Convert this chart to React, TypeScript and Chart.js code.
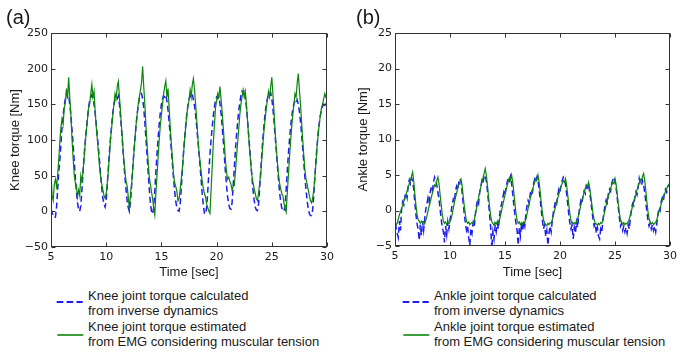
import React, { useEffect, useRef } from 'react';
import { Chart, registerables } from 'chart.js';

Chart.register(...registerables);

// Sample times [sec]
const timeSec = [
  5.0, 5.1, 5.2, 5.3, 5.4, 5.5, 5.6, 5.7, 5.8, 5.9,
  6.0, 6.1, 6.2, 6.3, 6.4, 6.5, 6.6, 6.7, 6.8, 6.9,
  7.0, 7.1, 7.2, 7.3, 7.4, 7.5, 7.6, 7.7, 7.8, 7.9,
  8.0, 8.1, 8.2, 8.3, 8.4, 8.5, 8.6, 8.7, 8.8, 8.9,
  9.0, 9.1, 9.2, 9.3, 9.4, 9.5, 9.6, 9.7, 9.8, 9.9,
  10.0, 10.1, 10.2, 10.3, 10.4, 10.5, 10.6, 10.7, 10.8, 10.9,
  11.0, 11.1, 11.2, 11.3, 11.4, 11.5, 11.6, 11.7, 11.8, 11.9,
  12.0, 12.1, 12.2, 12.3, 12.4, 12.5, 12.6, 12.7, 12.8, 12.9,
  13.0, 13.1, 13.2, 13.3, 13.4, 13.5, 13.6, 13.7, 13.8, 13.9,
  14.0, 14.1, 14.2, 14.3, 14.4, 14.5, 14.6, 14.7, 14.8, 14.9,
  15.0, 15.1, 15.2, 15.3, 15.4, 15.5, 15.6, 15.7, 15.8, 15.9,
  16.0, 16.1, 16.2, 16.3, 16.4, 16.5, 16.6, 16.7, 16.8, 16.9,
  17.0, 17.1, 17.2, 17.3, 17.4, 17.5, 17.6, 17.7, 17.8, 17.9,
  18.0, 18.1, 18.2, 18.3, 18.4, 18.5, 18.6, 18.7, 18.8, 18.9,
  19.0, 19.1, 19.2, 19.3, 19.4, 19.5, 19.6, 19.7, 19.8, 19.9,
  20.0, 20.1, 20.2, 20.3, 20.4, 20.5, 20.6, 20.7, 20.8, 20.9,
  21.0, 21.1, 21.2, 21.3, 21.4, 21.5, 21.6, 21.7, 21.8, 21.9,
  22.0, 22.1, 22.2, 22.3, 22.4, 22.5, 22.6, 22.7, 22.8, 22.9,
  23.0, 23.1, 23.2, 23.3, 23.4, 23.5, 23.6, 23.7, 23.8, 23.9,
  24.0, 24.1, 24.2, 24.3, 24.4, 24.5, 24.6, 24.7, 24.8, 24.9,
  25.0, 25.1, 25.2, 25.3, 25.4, 25.5, 25.6, 25.7, 25.8, 25.9,
  26.0, 26.1, 26.2, 26.3, 26.4, 26.5, 26.6, 26.7, 26.8, 26.9,
  27.0, 27.1, 27.2, 27.3, 27.4, 27.5, 27.6, 27.7, 27.8, 27.9,
  28.0, 28.1, 28.2, 28.3, 28.4, 28.5, 28.6, 28.7, 28.8, 28.9,
  29.0, 29.1, 29.2, 29.3, 29.4, 29.5, 29.6, 29.7, 29.8, 29.9,
  30.0,
];

// Knee torque [Nm], inverse dynamics
const kneeInverse = [
  3, -2, -5, -9, -8, 5, 30, 55, 72, 95,
  118, 135, 148, 158, 165, 160, 162, 150, 135, 115,
  95, 72, 48, 28, 12, 3, 0, 8, 30, 55,
  78, 98, 115, 130, 145, 155, 160, 163, 158, 150,
  138, 122, 105, 88, 70, 50, 32, 18, 10, 6,
  15, 38, 62, 85, 105, 122, 138, 150, 157, 160,
  158, 162, 150, 132, 112, 90, 68, 48, 30, 15,
  5, 0, 12, 35, 60, 82, 102, 120, 136, 148,
  158, 163, 165, 158, 145, 125, 102, 78, 55, 32,
  12, 0, -4, 5, 28, 55, 80, 102, 122, 138,
  150, 158, 162, 160, 163, 155, 142, 125, 106, 86,
  66, 46, 28, 14, 5, 1, 0, 10, 32, 58,
  82, 102, 120, 136, 148, 157, 162, 160, 164, 156,
  148, 135, 118, 100, 82, 64, 44, 24, 8, -3,
  -4, 6, 28, 55, 80, 100, 118, 134, 146, 155,
  160, 158, 161, 152, 138, 120, 100, 78, 56, 36,
  20, 10, 4, 3, 12, 35, 60, 85, 106, 124,
  140, 152, 162, 168, 165, 170, 160, 146, 128, 108,
  88, 68, 48, 30, 16, 6, 2, 1, 10, 32,
  58, 82, 104, 122, 138, 150, 158, 164, 162, 166,
  158, 144, 126, 106, 86, 66, 46, 28, 14, 5,
  1, 0, 8, 30, 55, 80, 100, 118, 132, 143,
  150, 155, 152, 156, 150, 140, 126, 108, 88, 68,
  48, 30, 15, 4, -3, -6, -6, 2, 22, 48,
  72, 92, 110, 124, 135, 142, 148, 150, 146, 150,
  145,
];

// Knee torque [Nm], estimated from EMG
const kneeEmg = [
  55, 22, 15, 38, 45, 35, 50, 72, 98, 118,
  130, 122, 145, 152, 172, 158, 188, 160, 135, 102,
  75, 52, 40, 36, 20, 30, 22, 50, 42, 55,
  75, 95, 112, 128, 145, 150, 165, 178, 160, 168,
  140, 118, 100, 82, 62, 48, 38, 30, 22, 18,
  25, 40, 58, 80, 102, 118, 135, 150, 165, 158,
  175, 182, 160, 140, 115, 95, 72, 55, 42, 35,
  20, 2, 25, 38, 58, 80, 100, 120, 135, 150,
  160, 170, 180, 203, 175, 150, 120, 95, 70, 48,
  38, 28, 18, 5, -5, 25, 50, 75, 100, 120,
  135, 150, 165, 175, 183, 160, 172, 145, 118, 95,
  72, 52, 40, 35, 28, 15, 18, 30, 45, 60,
  80, 100, 118, 135, 148, 155, 170, 160, 178, 186,
  170, 150, 128, 105, 85, 70, 55, 42, 32, 25,
  20, 10, 5, 0, -3, 30, 62, 95, 120, 145,
  155, 165, 160, 175, 158, 140, 118, 95, 72, 55,
  45, 48, 42, 38, 30, 35, 36, 55, 75, 95,
  115, 135, 150, 160, 170, 160, 168, 150, 128, 105,
  85, 65, 50, 40, 32, 25, 18, 15, 25, 40,
  52, 75, 95, 115, 130, 145, 155, 168, 160, 175,
  188, 165, 140, 112, 90, 70, 52, 40, 32, 25,
  22, 12, 4, -1, 25, 50, 75, 98, 118, 135,
  150, 165, 160, 180, 193, 170, 150, 125, 100, 78,
  58, 45, 38, 30, 22, 15, 12, 18, 30, 48,
  68, 90, 108, 122, 135, 145, 150, 158, 165, 160,
  162,
];

// Ankle torque [Nm], inverse dynamics
const ankleInverse = [
  -0.5, -2.5, -3.2, -3.8, -1.5, -2.8, 0.2, 1.2, 0.8, 2.0,
  2.5, 1.8, 3.5, 4.3, 3.8, 4.6, 4.2, 3.0, 1.2, -0.5,
  -1.8, -2.6, -4.2, -2.0, -3.5, -1.5, -2.8, -1.2, 0.2, 0.9,
  1.8, 1.2, 2.6, 3.3, 2.8, 4.0, 4.7, 4.3, 3.6, 2.5,
  1.6, 0.2, -1.2, -2.4, -3.0, -4.5, -2.2, -3.4, -1.6, -2.6,
  -1.4, -0.2, 0.8, 1.6, 1.2, 2.8, 3.4, 2.9, 4.0, 4.5,
  4.0, 2.6, 1.0, -0.5, -1.8, -2.8, -2.2, -3.8, -4.9, -2.5,
  -3.2, -1.8, -2.4, -0.6, 0.6, 1.5, 1.0, 2.6, 3.4, 4.2,
  3.8, 4.8, 5.0, 4.2, 2.8, 1.2, -0.6, -2.5, -5.4, -3.0,
  -4.0, -2.2, -3.0, -1.8, -2.6, -0.8, 0.4, 1.0, 1.8, 2.6,
  2.2, 3.4, 4.0, 4.6, 4.2, 4.8, 3.8, 2.4, 0.8, -0.6,
  -1.8, -2.8, -4.9, -2.4, -3.6, -1.8, -2.9, -1.5, -2.2, -0.4,
  0.6, 1.4, 1.0, 2.4, 3.0, 2.6, 3.8, 4.4, 4.0, 4.7,
  4.2, 3.0, 1.6, 0.0, -1.4, -2.6, -2.0, -3.6, -2.8, -4.9,
  -3.2, -2.2, -3.0, -1.4, -0.2, 0.6, 1.4, 1.0, 2.2, 3.0,
  2.6, 3.6, 4.2, 4.7, 4.4, 3.6, 2.4, 1.0, -0.6, -1.8,
  -2.6, -2.0, -4.0, -2.4, -3.2, -1.6, -2.4, -0.6, 0.6, 1.4,
  1.0, 2.2, 2.8, 2.4, 3.5, 3.2, 3.6, 2.6, 1.4, 0.0,
  -1.2, -2.2, -1.8, -3.2, -2.4, -3.6, -4.0, -2.6, -3.0, -1.4,
  -0.2, 0.8, 1.5, 1.1, 2.4, 3.0, 2.7, 3.8, 4.3, 4.7,
  4.2, 3.2, 1.8, 0.4, -1.0, -2.2, -1.8, -2.8, -2.2, -3.0,
  -2.4, -3.2, -2.0, -2.6, -1.0, 0.2, 1.0, 0.7, 1.8, 2.6,
  2.2, 3.2, 4.5, 3.8, 3.5, 4.2, 3.6, 2.6, 1.2, -0.2,
  -1.4, -2.2, -1.8, -2.6, -2.0, -2.8, -2.2, -3.0, -1.8, -0.6,
  0.4, 0.0, 1.2, 1.8, 1.4, 2.6, 3.0, 2.6, 3.4, 3.6,
  3.4,
];

// Ankle torque [Nm], estimated from EMG
const ankleEmg = [
  -1.5, -2.0, -1.8, -1.2, -0.6, -0.2, 0.3, 0.8, 1.3, 1.8,
  2.2, 2.8, 3.2, 3.8, 4.2, 4.8, 5.4, 4.2, 2.4, 0.8,
  -0.5, -1.3, -1.5, -1.8, -1.5, -1.7, -1.6, -1.9, -1.4, -0.8,
  -0.1, 0.6, 1.2, 1.8, 2.5, 3.0, 3.6, 3.4, 4.2, 4.7,
  3.8, 2.2, 0.8, -0.6, -1.5, -1.8, -1.6, -2.0, -1.7, -1.9,
  -1.6, -1.2, -0.5, 0.3, 1.1, 1.8, 2.5, 3.0, 3.6, 4.0,
  4.4, 3.5, 2.0, 0.6, -0.6, -1.5, -1.8, -1.6, -2.0, -1.8,
  -1.7, -1.9, -1.3, -0.6, 0.2, 1.0, 1.8, 2.6, 3.3, 4.0,
  4.6, 5.2, 5.9, 5.0, 3.6, 2.0, 0.5, -0.8, -1.6, -1.8,
  -2.1, -1.7, -1.9, -1.6, -1.8, -1.3, -0.7, 0.1, 0.8, 1.5,
  2.2, 2.9, 3.5, 4.1, 4.6, 4.3, 5.0, 4.0, 2.6, 1.0,
  -0.4, -1.4, -1.8, -1.6, -2.0, -1.7, -1.9, -1.6, -1.7, -1.2,
  -0.5, 0.3, 1.0, 1.7, 2.3, 2.9, 3.5, 4.0, 4.5, 4.3,
  5.0, 4.0, 2.6, 1.0, -0.3, -1.3, -1.8, -2.0, -2.1, -1.8,
  -2.0, -1.7, -1.8, -1.3, -0.7, 0.0, 0.6, 1.2, 1.8, 2.3,
  2.9, 3.4, 3.8, 4.2, 4.0, 4.5, 3.6, 2.2, 0.8, -0.5,
  -1.4, -1.8, -1.9, -1.7, -1.9, -1.6, -1.2, -0.6, 0.1, 0.8,
  1.4, 2.0, 2.6, 3.1, 3.6, 3.4, 4.0, 3.2, 2.0, 0.8,
  -0.4, -1.3, -1.8, -1.9, -2.1, -1.8, -2.0, -1.7, -1.8, -1.3,
  -0.6, 0.1, 0.8, 1.4, 2.0, 2.6, 3.1, 3.6, 4.0, 3.8,
  4.5, 3.7, 2.3, 0.9, -0.4, -1.3, -1.7, -1.9, -1.7, -2.0,
  -1.8, -1.9, -1.6, -1.2, -0.6, 0.0, 0.6, 1.2, 1.8, 2.3,
  2.9, 3.4, 3.9, 4.4, 4.2, 4.8, 5.2, 4.2, 2.8, 1.2,
  -0.2, -1.2, -1.7, -1.9, -1.7, -2.0, -1.8, -1.7, -1.3, -0.7,
  -0.1, 0.4, 0.9, 1.4, 1.9, 2.3, 2.7, 3.1, 3.4, 3.7,
  3.9,
];

const xTickValues = [5, 10, 15, 20, 25, 30];
const kneeTicks = { min: -50, max: 250, step: 50 };
const ankleTicks = { min: -5, max: 25, step: 5 };

const kneeLegend = [
  'Knee joint torque calculated',
  'from inverse dynamics',
  'Knee joint torque estimated',
  'from EMG considering muscular tension',
];
const ankleLegend = [
  'Ankle joint torque calculated',
  'from inverse dynamics',
  'Ankle joint torque estimated',
  'from EMG considering muscular tension',
];

const BLUE = '#1c1cee';
const GREEN = '#0b850b';
const INK = '#1a1a1a';
const TICK_FONT = 'DejaVu Sans';
const LABEL_FONT = 'Liberation Sans';

const framePlugin = {
  id: 'frameTicks',
  afterDatasetsDraw(chart: any) {
    const { ctx, chartArea: a, scales } = chart;
    const L = Math.round(a.left) + 0.5;
    const R = Math.round(a.right) - 0.5;
    const T = Math.round(a.top) + 0.5;
    const B = Math.round(a.bottom) - 0.5;
    ctx.save();
    ctx.strokeStyle = '#333';
    ctx.lineWidth = 1;
    ctx.beginPath();
    const len = 4;
    scales.x.ticks.forEach((t: any) => {
      const px = Math.round(scales.x.getPixelForValue(t.value)) + 0.5;
      ctx.moveTo(px, B);
      ctx.lineTo(px, B - len);
      ctx.moveTo(px, T);
      ctx.lineTo(px, T + len);
    });
    scales.y.ticks.forEach((t: any) => {
      const py = Math.round(scales.y.getPixelForValue(t.value)) + 0.5;
      ctx.moveTo(L, py);
      ctx.lineTo(L + len, py);
      ctx.moveTo(R, py);
      ctx.lineTo(R - len, py);
    });
    ctx.stroke();
    ctx.strokeRect(L, T, R - L, B - T);
    ctx.restore();
  },
};

function buildConfig(p: {
  inverse: number[];
  emg: number[];
  range: { min: number; max: number; step: number };
  yTitle: string;
  yWidth: number;
  padRight: number;
  xHeight: number;
  titlePad: number;
}) {
  return {
    type: 'line' as const,
    data: {
      datasets: [
        {
          label: 'inverse',
          data: timeSec.map((t, i) => ({ x: t, y: p.inverse[i] })),
          borderColor: BLUE,
          borderWidth: 1.5,
          borderDash: [6, 3.5],
          pointRadius: 0,
          fill: false,
          tension: 0,
          order: 2,
        },
        {
          label: 'emg',
          data: timeSec.map((t, i) => ({ x: t, y: p.emg[i] })),
          borderColor: GREEN,
          borderWidth: 1.2,
          pointRadius: 0,
          fill: false,
          tension: 0,
          order: 1,
        },
      ],
    },
    options: {
      animation: false as const,
      responsive: false,
      maintainAspectRatio: false,
      events: [],
      layout: { padding: { top: 33, right: p.padRight, bottom: 0, left: 0 } },
      plugins: { legend: { display: false }, tooltip: { enabled: false } },
      scales: {
        x: {
          type: 'linear' as const,
          min: xTickValues[0],
          max: xTickValues[xTickValues.length - 1],
          afterBuildTicks: (s: any) => {
            s.ticks = xTickValues.map((v) => ({ value: v }));
          },
          ticks: {
            padding: 4,
            color: INK,
            maxRotation: 0,
            autoSkip: false,
            font: { family: TICK_FONT, size: 11 },
          },
          grid: { display: false, drawTicks: false },
          border: { display: false },
          title: {
            display: true,
            text: 'Time [sec]',
            color: INK,
            font: { family: LABEL_FONT, size: 13 },
            padding: { top: 0, bottom: 0 },
          },
          afterFit: (s: any) => {
            s.height = p.xHeight;
          },
        },
        y: {
          type: 'linear' as const,
          min: p.range.min,
          max: p.range.max,
          ticks: {
            stepSize: p.range.step,
            padding: 3,
            color: INK,
            font: { family: TICK_FONT, size: 11 },
            callback: (v: any) => (v < 0 ? '\u2212' + Math.abs(v) : String(v)),
          },
          grid: { display: false, drawTicks: false },
          border: { display: false },
          title: {
            display: true,
            text: p.yTitle,
            color: INK,
            font: { family: LABEL_FONT, size: 13 },
            padding: { top: p.titlePad, bottom: 0 },
          },
          afterFit: (s: any) => {
            s.width = p.yWidth;
          },
        },
      },
    },
    plugins: [framePlugin],
  };
}

function Legend({ left, lines }: { left: number; lines: string[] }) {
  return (
    <>
      <svg
        width={30}
        height={8}
        style={{ position: 'absolute', left: left, top: 298 }}
      >
        <line x1={0.7} y1={4} x2={26.7} y2={4} stroke={BLUE} strokeWidth={2} strokeDasharray="6.6 3.3" />
      </svg>
      <svg
        width={30}
        height={8}
        style={{ position: 'absolute', left: left, top: 331 }}
      >
        <line x1={1.3} y1={4} x2={27.3} y2={4} stroke={GREEN} strokeWidth={1.6} />
      </svg>
      <div
        style={{
          position: 'absolute',
          left: left + 32,
          top: 287.75,
          fontFamily: LABEL_FONT,
          fontSize: 13,
          lineHeight: '15.5px',
          color: INK,
          whiteSpace: 'nowrap',
        }}
      >
        {lines.map((l, i) => (
          <div key={i}>{l}</div>
        ))}
      </div>
    </>
  );
}

export default function App() {
  const refA = useRef<HTMLCanvasElement>(null);
  const refB = useRef<HTMLCanvasElement>(null);

  useEffect(() => {
    const a = new Chart(
      refA.current as HTMLCanvasElement,
      buildConfig({
        inverse: kneeInverse,
        emg: kneeEmg,
        range: kneeTicks,
        yTitle: 'Knee torque [Nm]',
        yWidth: 51,
        padRight: 19,
        xHeight: 33,
        titlePad: 8,
      }) as any
    );
    const b = new Chart(
      refB.current as HTMLCanvasElement,
      buildConfig({
        inverse: ankleInverse,
        emg: ankleEmg,
        range: ankleTicks,
        yTitle: 'Ankle torque [Nm]',
        yWidth: 49,
        padRight: 22,
        xHeight: 34,
        titlePad: 9.5,
      }) as any
    );
    return () => {
      a.destroy();
      b.destroy();
    };
  }, []);

  const tagStyle: React.CSSProperties = {
    position: 'absolute',
    top: 7,
    fontFamily: LABEL_FONT,
    fontSize: 20,
    lineHeight: 1,
    color: INK,
  };

  return (
    <div
      style={{
        position: 'absolute',
        left: 0,
        top: 0,
        width: 692,
        height: 356,
        background: '#fff',
        overflow: 'hidden',
      }}
    >
      <canvas
        ref={refA}
        width={346}
        height={280}
        style={{ position: 'absolute', left: 0, top: 0, width: 346, height: 280 }}
      />
      <canvas
        ref={refB}
        width={346}
        height={280}
        style={{ position: 'absolute', left: 346, top: 0, width: 346, height: 280 }}
      />
      <div style={{ ...tagStyle, left: 6 }}>(a)</div>
      <div style={{ ...tagStyle, left: 356 }}>(b)</div>
      <Legend left={56} lines={kneeLegend} />
      <Legend left={402} lines={ankleLegend} />
    </div>
  );
}
